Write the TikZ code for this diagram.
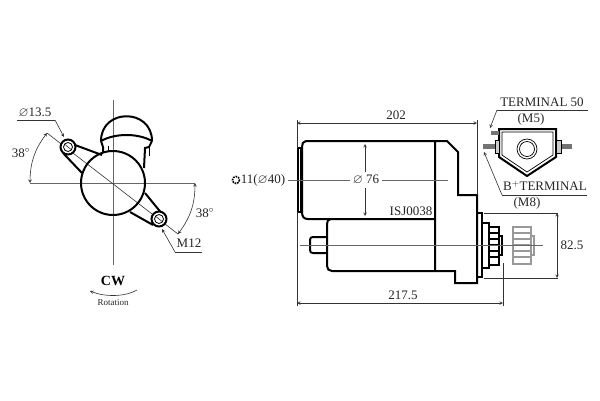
\documentclass[tikz,border=0pt]{standalone}
\usepackage{amssymb}
\usepackage{fontspec}
\setmainfont{Liberation Serif}
\usetikzlibrary{arrows,positioning,calc}
\tikzset{
	outline/.style={line width=2pt,black},
	dimline/.style={line width=0.6pt,black!80},
	dimarrow/.style={dimline,<->,>=stealth},
	leader/.style={dimline,->,>=stealth},
	axisline/.style={line width=0.8pt,black!60},
	label/.style={inner sep=0pt,font=\fontsize{13}{13}\selectfont,black!85},
	ghost/.style={line width=1.8pt,black!40},
}

\begin{document}
\begin{tikzpicture}[x=1pt,y=-1pt]
	\useasboundingbox (0,0) rectangle (600,400);
	\fill[white] (0,0) rectangle (600,400);

	% front view, axes
	\draw[axisline] (113,100) -- (113,265);
	\draw[axisline] (30,183) -- (195,183);
	\draw[dimline] (47,133) -- (178,234);

	% front view, solenoid
	\draw[outline] (101,141) .. controls (101,108) and (152,108) .. (152,141);
	\draw[outline] (101,141) .. controls (115,133) and (138,133) .. (152,141);
	\draw[outline] (101,141) -- (103,147) -- (103,152);
	\draw[outline] (152,141) -- (149,147) -- (145,148) -- (144,168);
	\draw[line width=1pt] (108,146) -- (108,152);
	\draw[line width=1pt] (149,147) -- (149,156);

	% front view, body and lugs
	\draw[outline,fill=white,fill opacity=0] (113,183) circle (32);
	\draw[outline] (75,145) -- (102,155);
	\draw[outline] (63,153) -- (82,173);
	\draw[outline] (145,193) -- (163,215);
	\draw[outline] (130,212) -- (153,225);
	\foreach \x/\y in {68/147,159/219} {
		\draw[outline,fill=white] (\x,\y) circle (7.5);
		\draw[line width=0.8pt] (\x,\y) circle (4.5);
		\draw[dimline] ({\x-3},{\y-2.5}) -- ({\x+3},{\y+2.5});
	}

	% front view, angles
	\coordinate (topdiag) at (47,133);
	\coordinate (leftaxis) at (30,183);
	\coordinate (rightaxis) at (195,183);
	\coordinate (botdiag) at (178,234);
	\draw[dimarrow] (topdiag) to[bend right=18] (leftaxis);
	\draw[dimarrow] (rightaxis) to[bend left=18] (botdiag);
	\node[label] (angletop) at (21,153) {38$^{\circ}$};
	\node[label] (anglebot) at (205,213) {38$^{\circ}$};

	% front view, leaders
	\node[label] (holedia) at (35,113) {$\varnothing$13.5};
	\coordinate (holestart) at (17,120);
	\coordinate (holeknee) at (55,120);
	\coordinate (holetip) at (64,137);
	\draw[dimline] (holestart) -- (holeknee);
	\draw[leader] (holeknee) -- (holetip);
	\node[label] (thread) at (189,243) {M12};
	\coordinate (threadstart) at (202,252);
	\coordinate (threadknee) at (175,252);
	\coordinate (threadtip) at (162,229);
	\draw[dimline] (threadstart) -- (threadknee);
	\draw[leader] (threadknee) -- (threadtip);

	% rotation
	\node[inner sep=0pt,font=\fontsize{14}{14}\selectfont\bfseries] (cw) at (113,281) {CW};
	\node[label,font=\fontsize{9}{9}\selectfont] (rotation) at (113,303) {Rotation};
	\coordinate (rotstart) at (137,290);
	\coordinate (rotend) at (90,291);
	\draw[dimline,->,>=stealth] (rotstart) .. controls (125,297) and (105,297) .. (rotend);

	% side view, motor
	\draw[outline] (435,141) -- (306,141) .. controls (303,141) and (302,144) .. (302,147)
		-- (302,212) .. controls (302,217) and (304,219) .. (308,219) -- (435,219);
	\draw[outline] (298,148) rectangle (301,212);
	\draw[outline] (331,219) .. controls (328,219) and (327,221) .. (327,224)
		-- (327,266) .. controls (327,269) and (329,271) .. (332,271) -- (455,271)
		-- (455,283) -- (477,283) -- (477,195) -- (458,195) -- (458,152) -- (447,141) -- (435,141) -- (435,271);
	\draw[outline] (327,237) -- (313,237) .. controls (311,237) and (310,238) .. (310,240)
		-- (310,250) .. controls (310,252) and (311,253) .. (313,253) -- (327,253);

	% side view, drive end
	\draw[outline] (477,213) rectangle (482,277);
	\draw[outline] (482,223) rectangle (489,268);
	\draw[outline] (489,227) rectangle (499,265);
	\foreach \y in {233,239,245,251,257} {
		\draw[line width=1.4pt] (489,\y) -- (499,\y);
	}
	\draw[line width=1.2pt] (499,236) rectangle (502,255);
	\draw[ghost] (513,227) rectangle (531,264);
	\foreach \y in {233,239,245,251,257} {
		\draw[ghost] (513,\y) -- (531,\y);
	}
	\draw[ghost] (531,236) rectangle (534,255);

	% side view, dimensions
	\draw[axisline] (300,245) -- (543,245);
	\draw[dimline] (297,120) -- (297,148);
	\draw[dimline] (297,212) -- (297,306);
	\draw[dimline] (477,120) -- (477,195);
	\draw[dimline] (503,263) -- (503,306);
	\draw[dimline] (484,213) -- (558,213);
	\draw[dimline] (484,278) -- (558,278);
	\coordinate (lenAl) at (297,123);
	\coordinate (lenAr) at (477,123);
	\draw[dimarrow] (lenAl) -- (lenAr);
	\node[label] (lenA) at (396,115) {202};
	\coordinate (lenBl) at (297,303);
	\coordinate (lenBr) at (503,303);
	\draw[dimarrow] (lenBl) -- (lenBr);
	\node[label] (lenB) at (403,295) {217.5};
	\coordinate (gearT) at (557,213);
	\coordinate (gearB) at (557,278);
	\draw[dimarrow] (gearT) -- (gearB);
	\node[label] (geardia) at (572,245) {82.5};
	\coordinate (diaT) at (365,144);
	\coordinate (diaB) at (365,216);
	\node[label,inner sep=3pt] (bodydia) at (366,180) {$\varnothing$ 76};
	\draw[leader] (bodydia.north-|diaT) -- (diaT);
	\draw[leader] (bodydia.south-|diaB) -- (diaB);
	\node[label] (teeth) at (263,180) {11($\varnothing$40)};
	\draw[line width=1.6pt,densely dotted] (236,180) circle (3.5);
	\coordinate (midend) at (448,180);
	\coordinate (midstart) at (288,180);
	\draw[axisline] (midstart) -- (bodydia.west);
	\draw[axisline] (bodydia.east) -- (midend);
	\node[label] (partno) at (411,211) {ISJ0038};

	% terminal block
	\draw[outline] (499,129) -- (556,129) -- (556,157) -- (527,176) -- (499,157) -- cycle;
	\draw[line width=0.7pt] (502,132) -- (553,132) -- (553,155) -- (527,172) -- (502,155) -- cycle;
	\draw[line width=0.7pt] (527,149) circle (10);
	\draw[line width=0.7pt] (527,149) circle (7.5);
	\fill[black!55] (491,131) rectangle (499,135);
	\fill[black!55] (483,144) rectangle (495,149);
	\fill[black!55] (561,144) rectangle (572,149);
	\draw[line width=0.8pt,fill=black!20] (495,140) rectangle (499,153);
	\draw[line width=0.8pt,fill=black!20] (556,140) rectangle (561,153);

	% terminal labels
	\node[label] (term50) at (542,102) {TERMINAL 50};
	\node[label] (m5) at (531,119) {(M5)};
	\coordinate (t50start) at (588,110);
	\coordinate (t50knee) at (497,110);
	\coordinate (t50tip) at (490,128);
	\draw[dimline] (t50start) -- (t50knee);
	\draw[leader] (t50knee) -- (t50tip);
	\node[label] (termb) at (545,186) {B$^{+}$TERMINAL};
	\node[label] (m8) at (527,203) {(M8)};
	\coordinate (bstart) at (587,195);
	\coordinate (bknee) at (502,195);
	\coordinate (btip) at (484,152);
	\draw[dimline] (bstart) -- (bknee);
	\draw[leader] (bknee) -- (btip);
\end{tikzpicture}
\end{document}
